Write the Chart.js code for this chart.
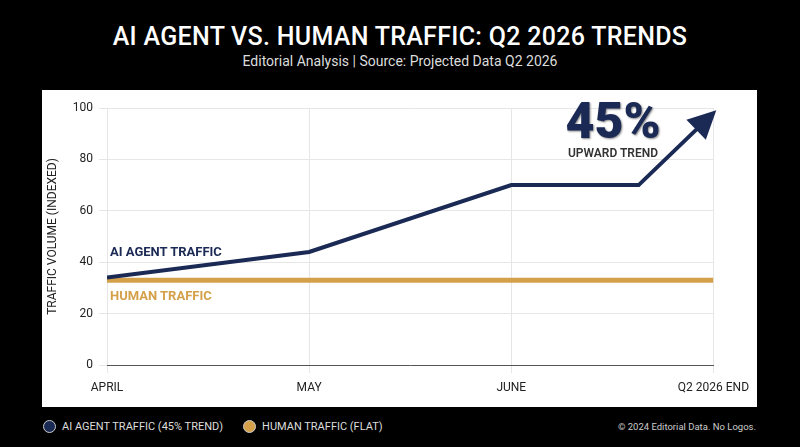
<!DOCTYPE html>
<html><head><meta charset="utf-8">
<script src="https://cdn.jsdelivr.net/npm/chart.js@4"></script>
<style>
html,body{margin:0;padding:0;background:#000;width:800px;height:447px;overflow:hidden;font-family:Roboto,"Noto Sans",sans-serif;}
#title{position:absolute;top:22px;left:0;width:800px;text-align:center;color:#fff;font-size:25px;font-weight:500;letter-spacing:0.3px;}
#sub{position:absolute;top:53px;left:0;width:800px;text-align:center;color:#ddd;font-size:14px;}
#panel{position:absolute;left:42px;top:90px;width:715px;height:317px;background:#fff;}
#panel canvas{position:absolute;left:0;top:0;}
.ov{position:absolute;font-weight:700;white-space:nowrap;}
#legend{position:absolute;top:420px;left:43px;color:#ddd;font-size:11px;display:flex;align-items:center;}
.dot{display:inline-block;width:11px;height:11px;border-radius:50%;border:1px solid #ccc;margin-right:6px;}
#copy{position:absolute;top:421px;right:44px;color:#ccc;font-size:9.5px;}
</style></head><body>
<div id="title">AI AGENT VS. HUMAN TRAFFIC: Q2 2026 TRENDS</div>
<div id="sub">Editorial Analysis | Source: Projected Data Q2 2026</div>
<div id="panel"><canvas id="c" width="715" height="317"></canvas>
<div class="ov" style="left:68px;top:154px;color:#1b2a55;font-size:13px;">AI AGENT TRAFFIC</div>
<div class="ov" style="left:68px;top:198px;color:#d4a04a;font-size:13px;">HUMAN TRAFFIC</div>
<div class="ov" style="left:511px;top:2px;width:120px;text-align:center;color:#1b2a55;font-size:50px;font-weight:900;text-shadow:1px 1px 2px #888;">45%</div>
<div class="ov" style="left:511px;top:56px;width:120px;text-align:center;color:#333;font-size:12px;font-weight:600;">UPWARD TREND</div>
</div>
<div id="legend"><span class="dot" style="background:#1b2a55"></span>AI AGENT TRAFFIC (45% TREND)<span style="width:20px"></span><span class="dot" style="background:#d4a04a"></span>HUMAN TRAFFIC (FLAT)</div>
<div id="copy">© 2024 Editorial Data. No Logos.</div>
<script>
const tickLabels = ["APRIL","MAY","JUNE","Q2 2026 END"];
const aiX = [0, 1, 2, 2.63, 3];
const aiY = [34, 44, 70, 70, 98];
const humanX = [0, 3];
const humanY = [33, 33];
const yTicks = [0,20,40,60,80,100];

const arrow = {id:'arrow', afterDatasetsDraw(ch){
  const m = ch.getDatasetMeta(0).data; const n=m.length;
  const a=m[n-2], b=m[n-1]; const ang=Math.atan2(b.y-a.y,b.x-a.x);
  const ctx=ch.ctx; ctx.save(); ctx.translate(b.x,b.y); ctx.rotate(ang);
  ctx.fillStyle='#1b2a55'; ctx.beginPath(); ctx.moveTo(4,0); ctx.lineTo(-24,-14); ctx.lineTo(-24,14); ctx.closePath(); ctx.fill(); ctx.restore();
}};
new Chart(document.getElementById('c'),{
  type:'line',
  data:{datasets:[
    {data:aiX.map((x,i)=>({x,y:aiY[i]})),borderColor:'#1b2a55',borderWidth:4,pointRadius:0,tension:0,borderJoinStyle:'miter'},
    {data:humanX.map((x,i)=>({x,y:humanY[i]})),borderColor:'#d4a04a',borderWidth:5,pointRadius:0}
  ]},
  options:{responsive:false,animation:false,
    layout:{padding:{top:18,right:37,left:0,bottom:0}},
    plugins:{legend:{display:false},tooltip:{enabled:false}},
    scales:{
      x:{type:'linear',min:0,max:3,afterBuildTicks(s){s.ticks=[0,1,2,3].map(v=>({value:v}));},
        afterFit(s){s.height=42;},
        ticks:{callback:(v)=>tickLabels[v],color:'#222',font:{size:12,family:'Roboto'},padding:8,maxRotation:0},
        grid:{color:'#e6e6e6'},border:{color:'#555'}},
      y:{min:0,max:100,afterBuildTicks(s){s.ticks=yTicks.map(v=>({value:v}));},
        afterFit(s){s.width=65;},
        ticks:{color:'#222',font:{size:12,family:'Roboto'},padding:6},
        title:{display:true,text:'TRAFFIC VOLUME (INDEXED)',color:'#222',font:{size:12,family:'Roboto'}},
        grid:{color:'#e6e6e6'},border:{display:false}}
    }},
  plugins:[arrow]
});
</script></body></html>
